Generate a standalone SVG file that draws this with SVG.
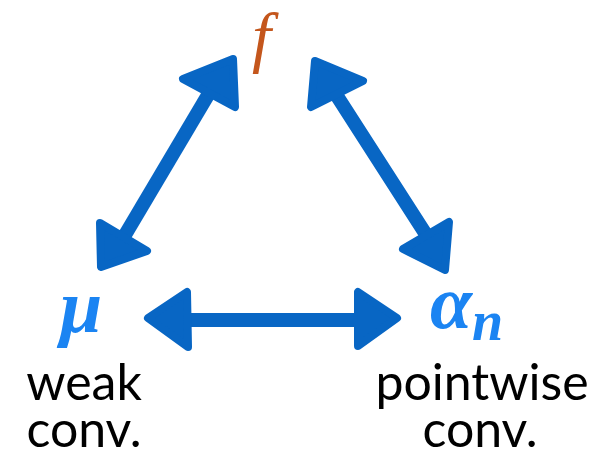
<svg xmlns="http://www.w3.org/2000/svg" width="615" height="462" viewBox="0 0 615 462">
<style>
.shaft{stroke:#0866c4;stroke-width:14;stroke-linecap:round;fill:none}
.head{fill:#0866c4;stroke:#0866c4;stroke-width:8;stroke-linejoin:round}
.math{font-family:"Liberation Serif","DejaVu Serif",serif;font-style:italic}
.var{fill:#1b84f2;font-weight:bold}
.lbl{font-family:Lato,"Open Sans",sans-serif;font-size:50px;fill:#000;text-anchor:middle}
</style>
<rect width="615" height="462" fill="#fff"/>
<g id="connectors">
<g id="edge-mu-f">
<line class="shaft" x1="208" y1="95" x2="125" y2="235"/>
<polygon class="head" points="233,59 183,79 235,107"/>
<polygon class="head" points="101,267 100,223 147,251"/>
</g>
<g id="edge-f-alpha">
<line class="shaft" x1="337" y1="96" x2="425" y2="233"/>
<polygon class="head" points="315,61 363,81 311,107"/>
<polygon class="head" points="445,270 403,249 449,222"/>
</g>
<g id="edge-mu-alpha">
<line class="shaft" x1="190" y1="320" x2="355" y2="320"/>
<polygon class="head" points="148,318 187,292 188,347"/>
<polygon class="head" points="397,318 358,292 358,346"/>
</g>
</g>
<g id="node-f">
<text class="math" x="252" y="60" font-size="68" fill="#c4561c">f</text>
</g>
<g id="node-mu">
<text class="math var" x="60" y="332" font-size="76">μ</text>
<text class="lbl" x="84" y="400">weak</text>
<text class="lbl" x="84" y="447">conv.</text>
</g>
<g id="node-alpha">
<text class="math var" x="430" y="328" font-size="76">α<tspan font-size="56" dy="12">n</tspan></text>
<text class="lbl" x="482" y="400">pointwise</text>
<text class="lbl" x="480" y="447">conv.</text>
</g>
</svg>
